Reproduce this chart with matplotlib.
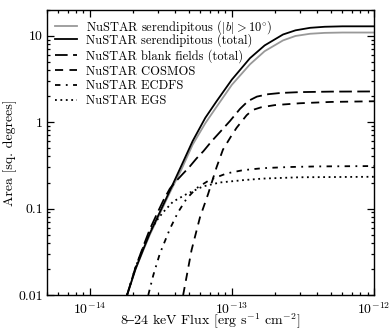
import matplotlib
matplotlib.use("Agg")
import matplotlib.pyplot as plt
from matplotlib.ticker import FixedLocator, FixedFormatter, LogLocator, NullFormatter

plt.rcParams['font.family'] = ['cmr10', 'DejaVu Serif']
plt.rcParams['mathtext.fontset'] = 'cm'
plt.rcParams['axes.formatter.use_mathtext'] = True
plt.rcParams['axes.unicode_minus'] = False

# Serendipitous (total)
ser_tot_flux = [1.83e-14, 2.1e-14, 2.4e-14, 2.65e-14, 3.0e-14, 3.66e-14, 4.4e-14, 5.3e-14,
                6.5e-14, 7.8e-14, 1.0e-13, 1.34e-13, 1.7e-13, 2.29e-13, 2.8e-13, 3.55e-13,
                4.5e-13, 6e-13, 1e-12]
ser_tot_area = [0.01, 0.02, 0.035, 0.052, 0.08, 0.161, 0.31, 0.605,
                1.12, 1.74, 3.1, 5.48, 7.7, 10.3, 11.5, 12.3, 12.65, 12.8, 12.8]

# Serendipitous (|b| > 10 deg)
ser_hb_flux = ser_tot_flux
ser_hb_area = [0.01, 0.02, 0.034, 0.05, 0.077, 0.153, 0.28, 0.55,
               0.97, 1.5, 2.7, 4.65, 6.6, 8.8, 9.9, 10.5, 10.75, 10.85, 10.85]

# Blank fields (total)
blank_flux = [1.83e-14, 2.1e-14, 2.4e-14, 2.65e-14, 3.0e-14, 3.3e-14, 3.66e-14, 3.97e-14,
              4.5e-14, 5.0e-14, 5.64e-14, 6.3e-14, 7.2e-14, 8.5e-14, 9.7e-14, 1.14e-13,
              1.3e-13, 1.5e-13, 1.8e-13, 2.2e-13, 3e-13, 5e-13, 1e-12]
blank_area = [0.01, 0.021, 0.038, 0.058, 0.09, 0.125, 0.17, 0.2,
              0.25, 0.3, 0.38, 0.46, 0.6, 0.81, 1.03, 1.42,
              1.75, 1.97, 2.1, 2.17, 2.22, 2.25, 2.26]

# COSMOS
cosmos_flux = [4.54e-14, 5.2e-14, 5.96e-14, 6.8e-14, 7.8e-14, 8.65e-14, 1.0e-13, 1.08e-13,
               1.27e-13, 1.4e-13, 1.6e-13, 2.0e-13, 3e-13, 5e-13, 1e-12]
cosmos_area = [0.01, 0.033, 0.079, 0.147, 0.3, 0.48, 0.71, 0.86,
               1.2, 1.38, 1.48, 1.57, 1.65, 1.71, 1.74]

# ECDFS
ecdfs_flux = [2.58e-14, 2.8e-14, 3.11e-14, 3.66e-14, 4.17e-14, 4.8e-14, 5.64e-14, 7.0e-14,
              9.2e-14, 1.2e-13, 1.65e-13, 2.5e-13, 4e-13, 1e-12]
ecdfs_area = [0.01, 0.017, 0.03, 0.058, 0.09, 0.13, 0.172, 0.215,
              0.255, 0.278, 0.293, 0.302, 0.307, 0.31]

# EGS
egs_flux = [1.83e-14, 2.1e-14, 2.4e-14, 2.65e-14, 3.0e-14, 3.27e-14, 3.85e-14, 4.8e-14,
            6.25e-14, 8.2e-14, 1.2e-13, 1.65e-13, 3e-13, 1e-12]
egs_area = [0.01, 0.021, 0.037, 0.055, 0.075, 0.09, 0.12, 0.147,
            0.18, 0.2, 0.213, 0.222, 0.23, 0.233]

labels = [r"NuSTAR serendipitous ($|b| > 10^{\circ}$)",
          "NuSTAR serendipitous (total)",
          "NuSTAR blank fields (total)",
          "NuSTAR COSMOS",
          "NuSTAR ECDFS",
          "NuSTAR EGS"]

y_ticks = [0.01, 0.1, 1, 10]
y_ticklabels = ["0.01", "0.1", "1", "10"]

fig = plt.figure(figsize=(3.9, 3.32), dpi=100)
ax = fig.add_axes([0.1205, 0.1114, 0.8385, 0.8598])

lw = 1.3
h0, = ax.plot(ser_hb_flux, ser_hb_area, color='#999999', lw=lw, label=labels[0])
h1, = ax.plot(ser_tot_flux, ser_tot_area, color='black', lw=lw, label=labels[1])
h2, = ax.plot(blank_flux, blank_area, color='black', lw=lw, ls=(0, (7, 3)), label=labels[2])
h3, = ax.plot(cosmos_flux, cosmos_area, color='black', lw=lw, ls=(0, (4.5, 3.5)), label=labels[3])
h4, = ax.plot(ecdfs_flux, ecdfs_area, color='black', lw=lw, ls=(0, (3, 3, 1, 3)), label=labels[4])
h5, = ax.plot(egs_flux, egs_area, color='black', lw=lw, ls=(0, (1, 2)), label=labels[5])

ax.set_xscale('log')
ax.set_yscale('log')
ax.set_xlim(5e-15, 1e-12)
ax.set_ylim(0.01, 20)

ax.yaxis.set_major_locator(FixedLocator(y_ticks))
ax.yaxis.set_major_formatter(FixedFormatter(y_ticklabels))
ax.yaxis.set_minor_locator(LogLocator(base=10, subs=range(2, 10)))
ax.yaxis.set_minor_formatter(NullFormatter())
ax.xaxis.set_minor_locator(LogLocator(base=10, subs=range(2, 10)))
ax.xaxis.set_minor_formatter(NullFormatter())

ax.tick_params(which='both', direction='in', top=True, right=True, labelsize=10, width=0.9)
ax.tick_params(which='major', length=5, pad=3)
ax.tick_params(axis='x', which='major', pad=4.5)
ax.tick_params(which='minor', length=2.5)
for s in ax.spines.values():
    s.set_linewidth(1.0)

ax.set_xlabel("8$\u2013$24 keV Flux [erg s$^{-1}$ cm$^{-2}$]", fontsize=10, va='center')
ax.set_ylabel("Area [sq. degrees]", fontsize=10, va='center')
ax.xaxis.set_label_coords(0.5, -0.094)
ax.yaxis.set_label_coords(-0.113, 0.5)

leg_kw = dict(frameon=False, fontsize=9, handlelength=1.8, labelspacing=0.2,
              borderaxespad=0.0, borderpad=0.3, handletextpad=0.7, loc='upper left')
leg1 = ax.legend([h0], [labels[0]], bbox_to_anchor=(0.0115, 0.984), **leg_kw)
ax.add_artist(leg1)
ax.legend([h1, h2, h3, h4, h5], labels[1:], bbox_to_anchor=(0.0115, 0.931), **leg_kw)

fig.savefig("out.png", dpi=100)
